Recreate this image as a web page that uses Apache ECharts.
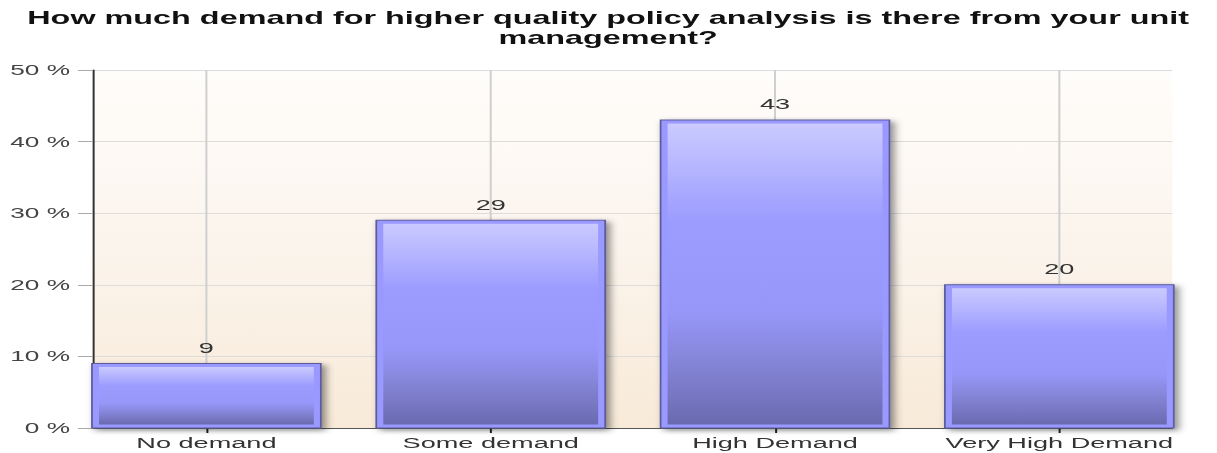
<!DOCTYPE html>
<html>
<head>
<meta charset="utf-8">
<title>Demand for higher quality policy analysis</title>
<script src="https://cdn.jsdelivr.net/npm/echarts@6.0.0/dist/echarts.min.js"></script>
<style>
  html, body { margin: 0; padding: 0; background: #fff; overflow: hidden; }
  /* the reference is stretched sideways, so draw narrow and scale on x */
  #chart { width: 695.43px; height: 453px; transform: scaleX(1.75); transform-origin: 0 0; }
</style>
</head>
<body>
<div id="chart"></div>
<script>
const titleText = 'How much demand for higher quality policy analysis is there from your unit\nmanagement?';
const categories = ['No demand', 'Some demand', 'High Demand', 'Very High Demand'];
const percentages = [9, 29, 43, 20];
const yMin = 0;
const yMax = 50;
const yStep = 10;

const FONT = '"Liberation Sans", Arial, sans-serif';
const SX = 1.75; // horizontal stretch, vertical strokes are divided by it

const chart = echarts.init(document.getElementById('chart'), null, { renderer: 'svg' });

const innerFill = new echarts.graphic.LinearGradient(0, 0, 0, 1, [
  { offset: 0, color: '#cacaff' },
  { offset: 0.1, color: '#bcbcff' },
  { offset: 0.32, color: '#9c9cff' },
  { offset: 0.62, color: '#9797fa' },
  { offset: 0.8, color: '#8484d6' },
  { offset: 1, color: '#6a6ab0' }
]);

// bar with a frame, inset gradient and a soft shadow, placed by the axis scales
function renderBar(params, api) {
  const cat = api.value(0);
  const val = api.value(1);
  const top = api.coord([cat, val]);
  const base = api.coord([cat, 0]);
  const cs = params.coordSys;
  const w = api.size([1, 0])[0] * 0.805;
  const x0 = top[0] - w / 2;
  const h = base[1] - top[1];
  return {
    type: 'group',
    children: [
      {
        type: 'line',
        shape: { x1: top[0], y1: cs.y, x2: top[0], y2: cs.y + cs.height },
        style: { stroke: '#cfcfcf', lineWidth: 2 / SX }
      },
      {
        type: 'rect',
        shape: { x: x0, y: top[1], width: w, height: h },
        style: {
          fill: '#9999ff', stroke: '#5c5c9c', lineWidth: 1,
          shadowBlur: 5, shadowOffsetX: 4 / SX, shadowOffsetY: 2, shadowColor: 'rgba(0,0,0,0.45)'
        }
      },
      {
        type: 'rect',
        shape: { x: x0 + 7 / SX, y: top[1] + 3.5, width: w - 14 / SX, height: h - 7 },
        style: { fill: innerFill }
      },
      {
        type: 'text',
        style: {
          text: String(val), x: top[0], y: top[1] - 8,
          align: 'center', verticalAlign: 'bottom',
          fill: '#333', font: '15.5px ' + FONT
        }
      }
    ]
  };
}

chart.setOption({
  animation: false,
  title: {
    text: titleText,
    left: 'center',
    top: 3,
    textStyle: { fontFamily: FONT, fontSize: 18.5, fontWeight: 'bold', color: '#111', lineHeight: 20 }
  },
  grid: [
    {
      // plot frame: background, y axis and horizontal lines
      left: 93 / SX, right: 44 / SX, top: 70, bottom: 25,
      show: true, borderWidth: 0,
      backgroundColor: new echarts.graphic.LinearGradient(0, 0, 0, 1, [
        { offset: 0, color: '#fffdfb' },
        { offset: 0.5, color: '#fbf4ec' },
        { offset: 1, color: '#f8ead8' }
      ])
    },
    {
      // category bands
      left: 64.25 / SX, right: 14.75 / SX, top: 70, bottom: 25
    }
  ],
  xAxis: [
    {
      gridIndex: 0, type: 'value', min: 0, max: 1,
      axisLine: { show: true, lineStyle: { color: '#555', width: 1 } },
      axisTick: { show: false }, axisLabel: { show: false }, splitLine: { show: false }
    },
    {
      gridIndex: 1, type: 'category', data: categories,
      axisLine: { show: false },
      axisTick: { show: true, alignWithLabel: true, length: 5, lineStyle: { color: '#222', width: 2 / SX } },
      axisLabel: { interval: 0, fontFamily: FONT, fontSize: 15.5, color: '#333', margin: 7 },
      splitLine: { show: false }
    }
  ],
  yAxis: [
    {
      gridIndex: 0, type: 'value', min: yMin, max: yMax, interval: yStep,
      axisLine: { show: true, lineStyle: { color: '#333', width: 2 / SX } },
      axisTick: { show: true, length: 15 / SX, lineStyle: { color: '#aaa', width: 1 } },
      axisLabel: { formatter: '{value} %', fontFamily: FONT, fontSize: 15, color: '#444', margin: 23 / SX },
      splitLine: { show: true, lineStyle: { color: '#dcdcdc', width: 1 } }
    },
    {
      gridIndex: 1, type: 'value', min: yMin, max: yMax, show: false
    }
  ],
  series: [
    {
      type: 'custom',
      xAxisIndex: 1,
      yAxisIndex: 1,
      data: percentages.map((v, i) => [i, v]),
      encode: { x: 0, y: 1 },
      renderItem: renderBar
    }
  ]
});
</script>
</body>
</html>
